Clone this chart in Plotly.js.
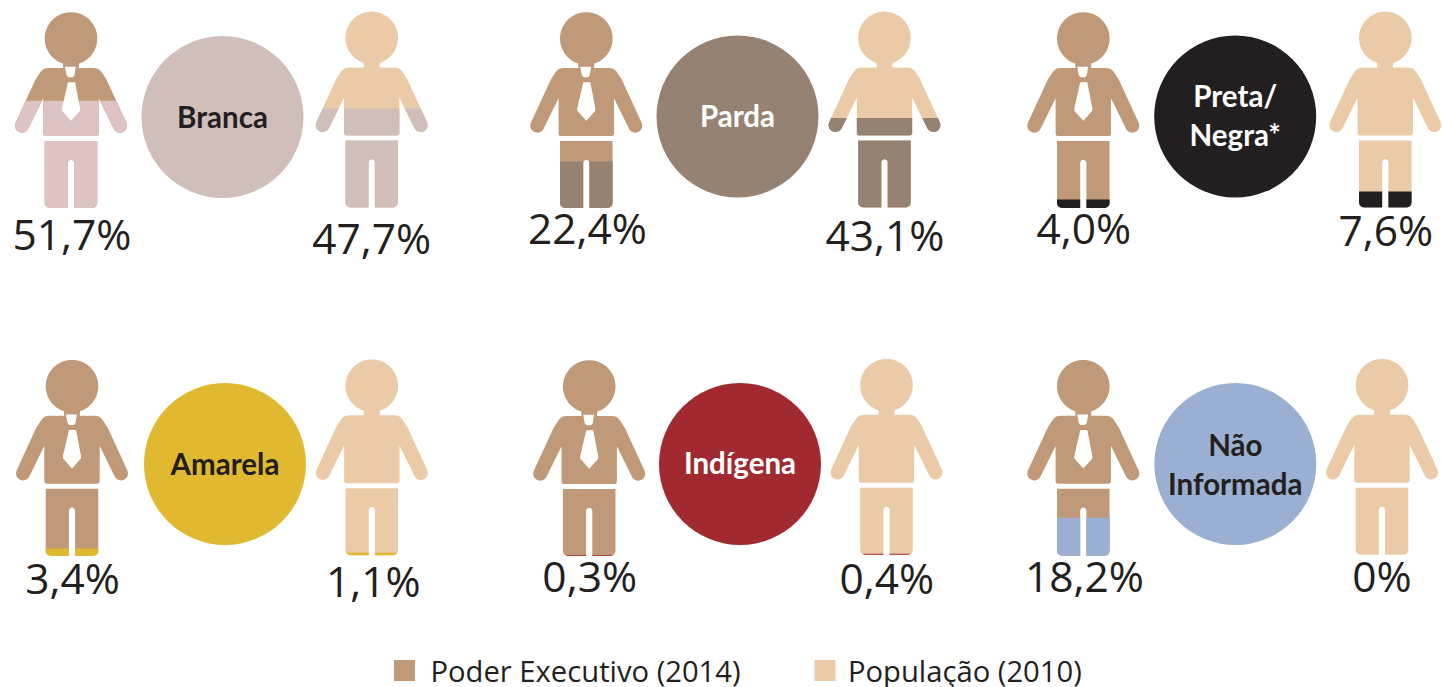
<!DOCTYPE html>
<html>
<head>
<meta charset="utf-8">
<script src="https://cdn.plot.ly/plotly-3.0.1.min.js"></script>
<style>html,body{margin:0;padding:0;background:#fff;overflow:hidden}#chart{width:1442px;height:687px}</style>
</head>
<body>
<div id="chart"></div>
<script>
// ---- data ----
const categories = ['Branca', 'Parda', 'Preta/<br>Negra*', 'Amarela', 'Indígena', 'Não<br>Informada'];
const poderExecutivo = [51.7, 22.4, 4.0, 3.4, 0.3, 18.2];
const populacao = [47.7, 43.1, 7.6, 1.1, 0.4, 0];
const seriesNames = ['Poder Executivo (2014)', 'População (2010)'];

// ---- styles ----
const categoryColors = ['#CFBFB8', '#968273', '#231F20', '#E0B930', '#A12A31', '#9AAFD1'];
const labelColors = ['#231F20', '#FFFFFF', '#FFFFFF', '#231F20', '#FFFFFF', '#231F20'];
const execOverlay = ['#DEC3C3', '#968273', '#231F20', '#E0B930', '#A12A31', '#9AAFD1'];
const execColor = '#C09A78';
const popColor = '#EBCBA7';
const textColor = '#231F20';
const FONT = '"Open Sans", sans-serif';
const BOLD = 'Lato, sans-serif';

// ---- layout of the panels (page pixels) ----
const circleX = [222.5, 737.5, 1235.2, 225, 740, 1235.3];
const circleY = [117, 116.5, 116.5, 464, 464, 464];
const circleLabelY = [120.5, 119.5, 119, 467.5, 467, 468];
const circleD = 162;
const execX = [71, 586.3, 1083.3, 72, 589.2, 1083.3];
const execTop = [12.3, 12.3, 12.3, 360, 360.3, 360];
const popX = [371.7, 884.5, 1385.3, 371.8, 886.5, 1382];
const popTop = [11.7, 11.7, 11.7, 359.5, 359, 359];
const execLabelX = [72, 587.5, 1083.8, 72.5, 589.7, 1084.5];
const execLabelY = [239, 233, 233, 583, 581.5, 581.5];
const popLabelX = [371.7, 885, 1385.8, 373.3, 886.8, 1382];
const popLabelY = [243, 240, 235, 586, 583, 581.5];
const PX_PER_PCT = 2.07;   // figure pixels filled per percentage point
const FIG_H = 195.5;

// ---- pictogram template, relative to (head centre x, top of head) ----
function arc(cx, cy, r, a0, a1, n) {
  const p = [];
  for (let i = 0; i <= n; i++) {
    const a = a0 + (a1 - a0) * i / n;
    p.push([cx + r * Math.cos(a), cy + r * Math.sin(a)]);
  }
  return p;
}
const mirror = pts => pts.slice().reverse().map(p => [-p[0], p[1]]);
const headNeck = [[-7.8, 57], ...arc(0, 26.2, 26.3, Math.PI * 0.5 + 0.31, Math.PI * 2.5 - 0.31, 70), [7.8, 57]];
const torsoRight = [[23, 55.7], [27, 56.5], [30, 59], [33, 63.5], [35.7, 67.7],
  ...arc(49, 113.4, 7, -0.418, Math.PI - 0.418, 14),
  [27.7, 86], [27.7, 121.7], [27.1, 123.1], [25.7, 123.7]];
const torso = [...torsoRight, ...mirror(torsoRight)];
const legsRight = [[26.3, 128.7], [26.3, 190.7],
  ...arc(21.3, 190.7, 5, 0, Math.PI / 2, 6),
  [3.1, 195.7], [3.1, 150.7], ...arc(0, 150.7, 3.1, 0, -Math.PI / 2, 5)];
const legs = [...legsRight, ...mirror(legsRight)];
const bodyParts = [headNeck, torso, legs];
const collar = [[-6, 54.4], [4.8, 54.4], [3.5, 63], [1.8, 65], [-2.8, 65], [-4.5, 63]];
const tie = [[-3, 70], [4, 70], [9, 96], [9, 98.5], [0, 108.5], [-9, 98.5], [-9, 96]];

// Keep the part of a polygon lying below the horizontal line y = yc
function clipBelow(poly, yc) {
  const out = [];
  for (let i = 0; i < poly.length; i++) {
    const a = poly[i], b = poly[(i + 1) % poly.length];
    const ain = a[1] >= yc, bin = b[1] >= yc;
    if (ain) out.push(a);
    if (ain !== bin) {
      const t = (yc - a[1]) / (b[1] - a[1]);
      out.push([a[0] + t * (b[0] - a[0]), yc]);
    }
  }
  return out;
}
function polysTrace(polys, cx, top, color) {
  const x = [], y = [];
  polys.forEach(poly => {
    if (!poly.length) return;
    poly.forEach(p => { x.push(cx + p[0]); y.push(top + p[1]); });
    x.push(cx + poly[0][0]); y.push(top + poly[0][1]);
    x.push(null); y.push(null);
  });
  return { type: 'scatter', mode: 'none', x, y, fill: 'toself', fillcolor: color,
           showlegend: false, hoverinfo: 'skip' };
}
function figureTraces(cx, top, value, base, accent, dressed) {
  const tr = [polysTrace(bodyParts, cx, top, base)];
  if (value > 0) {
    const level = FIG_H - value * PX_PER_PCT;
    tr.push(polysTrace(bodyParts.map(p => clipBelow(p, level)), cx, top, accent));
  }
  if (dressed) tr.push(polysTrace([collar, tie], cx, top, '#FFFFFF'));
  return tr;
}
const pct = v => String(v).replace('.', ',') + (Number.isInteger(v) && v !== 0 ? ',0%' : '%');

let traces = [];
categories.forEach((c, i) => {
  traces = traces.concat(figureTraces(execX[i], execTop[i], poderExecutivo[i], execColor, execOverlay[i], true));
  traces = traces.concat(figureTraces(popX[i], popTop[i], populacao[i], popColor, categoryColors[i], false));
});
traces.push({ type: 'scatter', mode: 'markers', x: circleX, y: circleY,
  marker: { size: circleD, color: categoryColors, opacity: 1, line: { width: 0 } },
  showlegend: false, hoverinfo: 'skip' });
traces.push({ type: 'scatter', mode: 'text', x: circleX, y: circleLabelY, text: categories,
  textposition: 'middle center',
  textfont: { family: BOLD, size: 29.5, color: labelColors, weight: 700 },
  showlegend: false, hoverinfo: 'skip' });
traces.push({ type: 'scatter', mode: 'text', x: execLabelX, y: execLabelY, text: poderExecutivo.map(pct),
  textposition: 'middle center', textfont: { family: FONT, size: 42.5, color: textColor },
  showlegend: false, hoverinfo: 'skip' });
traces.push({ type: 'scatter', mode: 'text', x: popLabelX, y: popLabelY, text: populacao.map(pct),
  textposition: 'middle center', textfont: { family: FONT, size: 42.5, color: textColor },
  showlegend: false, hoverinfo: 'skip' });
// legend entries
[[execColor, 'legend'], [popColor, 'legend2']].forEach((d, i) => traces.push({
  type: 'scatter', mode: 'markers', x: [null], y: [null], name: seriesNames[i], legend: d[1],
  marker: { symbol: 'square', size: 16, color: d[0], line: { width: 5, color: d[0] } }, hoverinfo: 'skip' }));

const legendBase = { yanchor: 'top', xanchor: 'left', y: 1 - 645 / 687,
  bgcolor: 'rgba(0,0,0,0)', font: { family: FONT, size: 29.2, color: textColor } };
const hidden = { visible: false, fixedrange: true };
Plotly.newPlot('chart', traces, {
  width: 1442, height: 687,
  margin: { l: 0, r: 0, t: 0, b: 0, pad: 0, autoexpand: false },
  paper_bgcolor: '#fff', plot_bgcolor: '#fff',
  xaxis: Object.assign({ range: [0, 1442] }, hidden),
  yaxis: Object.assign({ range: [687, 0] }, hidden),
  showlegend: true,
  hovermode: false,
  legend: Object.assign({ x: 378.5 / 1442, itemwidth: 42 }, legendBase),
  legend2: Object.assign({ x: 802 / 1442, itemwidth: 36 }, legendBase)
}, { displayModeBar: false, staticPlot: true });
</script>
</body>
</html>
